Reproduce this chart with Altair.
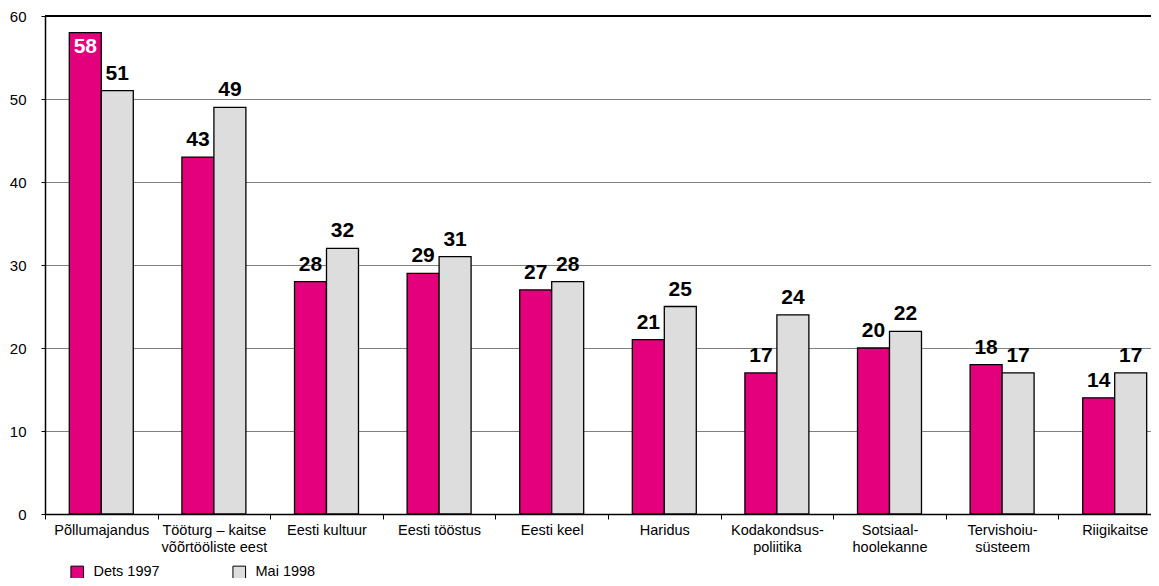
import altair as alt
import pandas as pd

categories = ["Põllumajandus", "Tööturg – kaitse|võõrtööliste eest", "Eesti kultuur",
              "Eesti tööstus", "Eesti keel", "Haridus", "Kodakondsus-|poliitika",
              "Sotsiaal-|hoolekanne", "Tervishoiu-|süsteem", "Riigikaitse"]
series = ["Dets 1997", "Mai 1998"]
dets_1997 = [58, 43, 28, 29, 27, 21, 17, 20, 18, 14]
mai_1998 = [51, 49, 32, 31, 28, 25, 24, 22, 17, 17]
y_ticks = [0, 10, 20, 30, 40, 50, 60]
colors = ["#E4007C", "#DDDDDD"]

rows = []
for i, c in enumerate(categories):
    rows.append({"cat": c, "series": series[0], "value": dets_1997[i]})
    rows.append({"cat": c, "series": series[1], "value": mai_1998[i]})
df = pd.DataFrame(rows)

FONT = "Liberation Sans"

x = alt.X("cat:N", sort=categories, title=None,
          scale=alt.Scale(range=[0, 1126], paddingInner=0, paddingOuter=0),
          axis=alt.Axis(labelExpr="split(datum.label, '|')", labelAngle=0,
                        labelFontSize=14.5, labelColor="black", labelFont=FONT,
                        labelLineHeight=17, labelPadding=4, labelLimit=300,
                        tickBand="extent", tickSize=5, tickColor="black",
                        domainColor="black", domainWidth=1.5, grid=False))
xo = alt.XOffset("series:N", sort=series,
                 scale=alt.Scale(paddingInner=0, paddingOuter=0.76))
y = alt.Y("value:Q", title=None,
          scale=alt.Scale(domain=[0, 60], nice=False),
          axis=alt.Axis(values=y_ticks, labelFontSize=15, labelColor="black",
                        labelFont=FONT, tickSize=4, tickColor="black",
                        labelPadding=15, domainColor="black", domainWidth=1.5,
                        gridColor="#808080", gridWidth=1))

base = alt.Chart(df)

bars = base.mark_bar(stroke="black", strokeWidth=1.3).encode(
    x=x, xOffset=xo, y=y,
    color=alt.Color("series:N", sort=series,
                    scale=alt.Scale(domain=series, range=colors),
                    legend=alt.Legend(title=None, orient="none", legendX=25, legendY=549,
                                      direction="horizontal", columns=2,
                                      symbolType="square", symbolSize=160,
                                      symbolStrokeColor="black", symbolStrokeWidth=1,
                                      labelFontSize=14.5, labelFont=FONT, labelColor="black",
                                      labelOffset=9, columnPadding=70))
)

labels_above = base.transform_filter("datum.value <= 55").mark_text(
    baseline="bottom", dy=-7, fontSize=21, fontWeight="bold", font=FONT, color="black"
).encode(x=x, xOffset=xo, y=y, text="value:Q")

labels_inside = base.transform_filter("datum.value > 55").mark_text(
    baseline="top", dy=3, fontSize=21, fontWeight="bold", font=FONT, color="white"
).encode(x=x, xOffset=xo, y=y, text="value:Q")

top_rule = alt.Chart(pd.DataFrame({"v": [60]})).mark_rule(
    color="black", strokeWidth=2).encode(y=alt.Y("v:Q", scale=alt.Scale(domain=[0, 60])))

chart = alt.layer(bars, labels_above, labels_inside, top_rule).properties(
    width=1106, height=498,
    autosize=alt.AutoSizeParams(type="none"),
    padding={"left": 37, "top": 8, "right": 0, "bottom": 64},
).configure_view(stroke=None).configure(font=FONT)

chart.save("out.html", embed_options={"renderer": "svg", "actions": False})
